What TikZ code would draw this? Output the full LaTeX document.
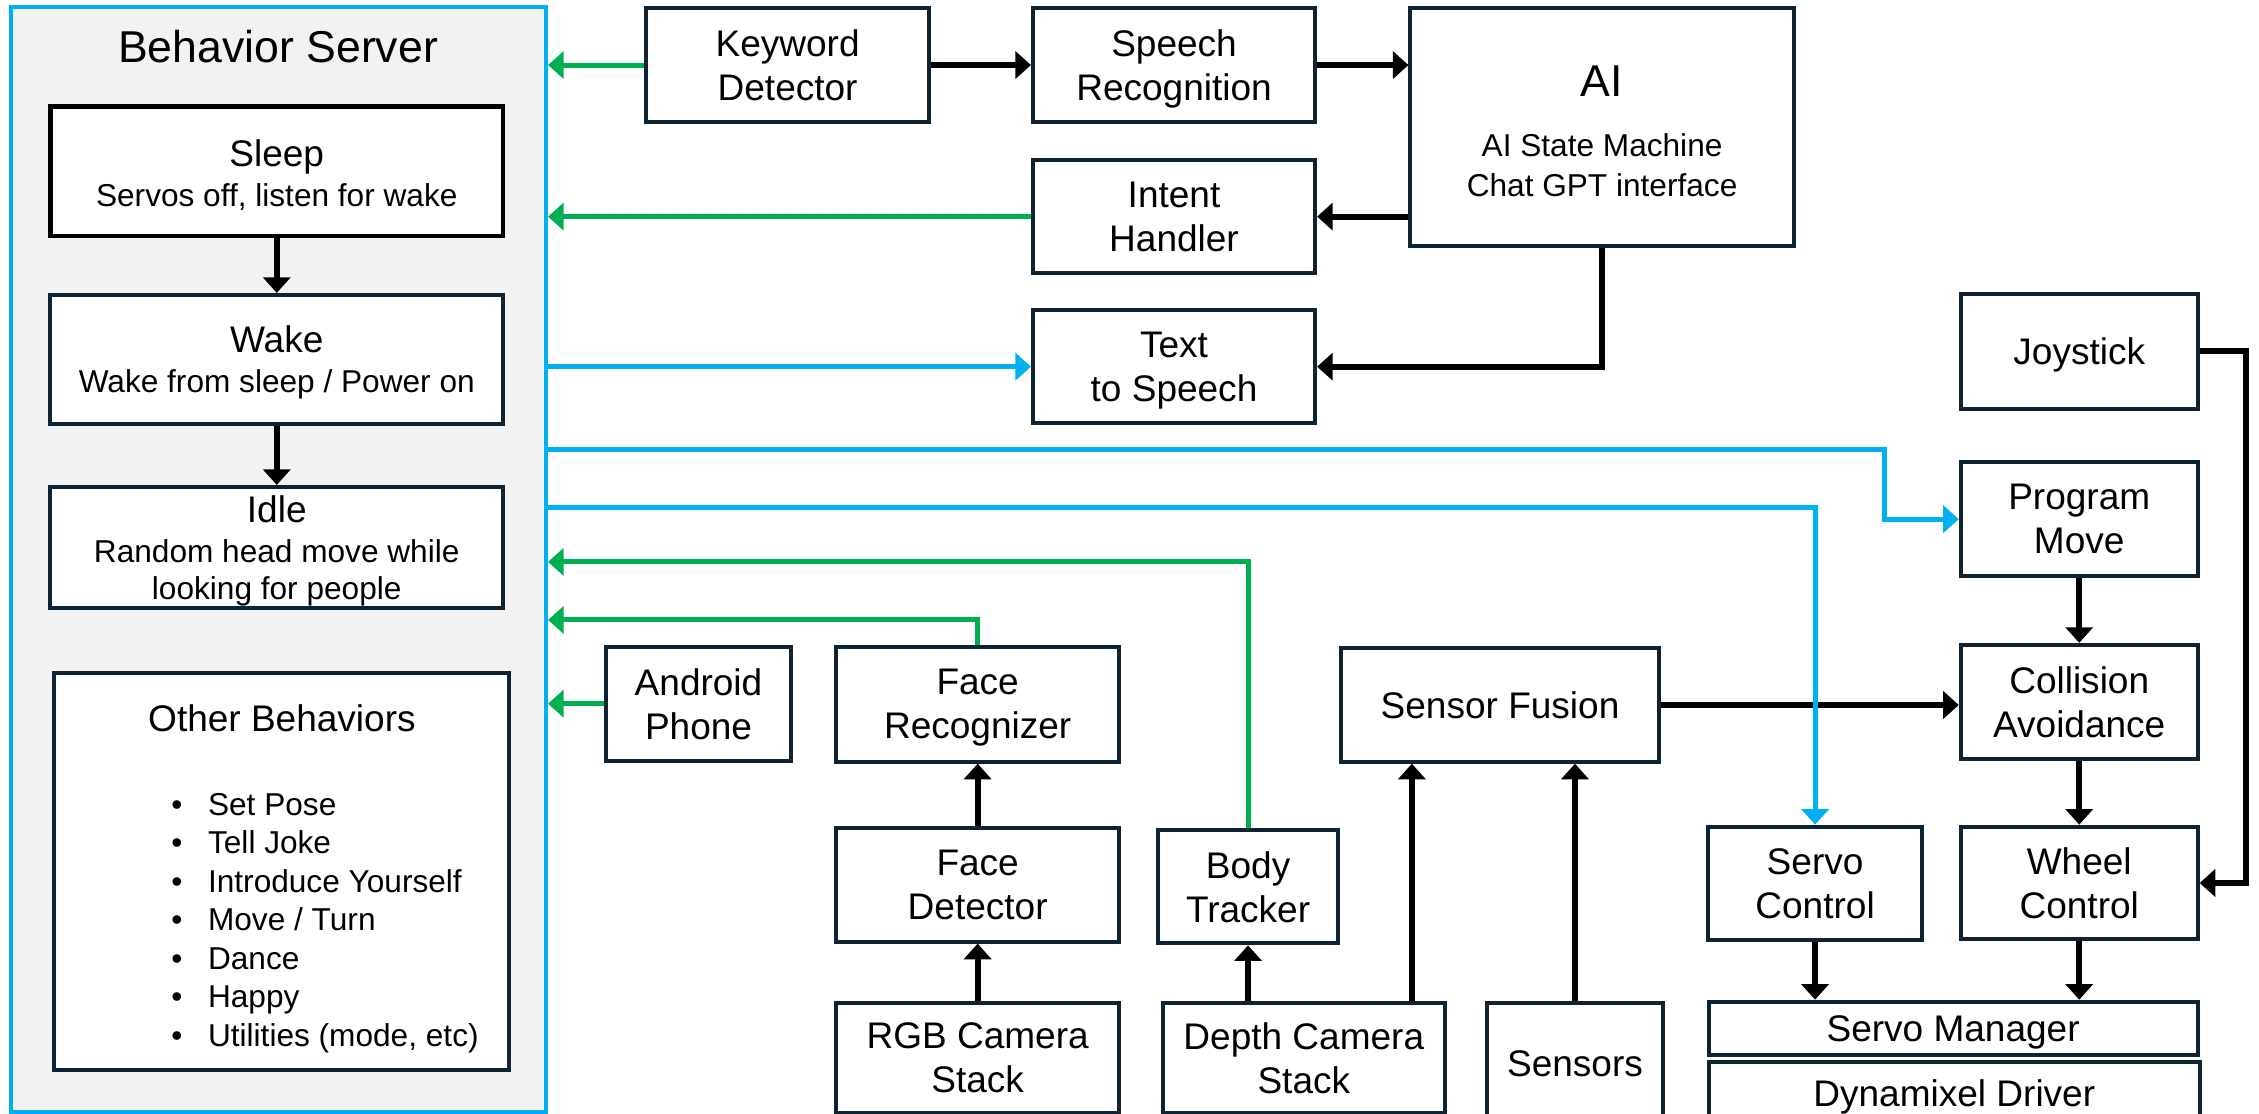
\documentclass[tikz,border=0pt]{standalone}
\usepackage{fontspec}
\setmainfont{Liberation Sans}
\usetikzlibrary{arrows.meta}

\definecolor{navy}{HTML}{0E2433}
\definecolor{linkblue}{HTML}{00B0F0}
\definecolor{linkgreen}{HTML}{00B050}
\definecolor{panel}{HTML}{F2F2F2}

\newcommand\normsz{\fontsize{18.5}{22}\selectfont}
\newcommand\smallsz{\fontsize{15.8}{22}\selectfont}
\newcommand\bigsz{\fontsize{22.3}{22}\selectfont}

% box from corner (x1,y1) to corner (x2,y2): name, x1, y1, x2, y2, style, text
\newcommand\placebox[7]{%
  \node[#6, minimum width={((#4)-(#2))*0.72pt}, minimum height={((#5)-(#3))*0.72pt}]
    (#1) at ({((#2)+(#4))/2},{((#3)+(#5))/2}) {#7};}

\tikzset{
  blk/.style={draw=navy, line width=2pt, fill=white, inner sep=0pt,
    align=center, font=\normsz, text depth=0pt},
  tip/.style={-{Triangle[width=13.5pt,length=7.8pt]}},
  flow/.style={tip, draw=black, line width=3pt},
  gflow/.style={tip, draw=linkgreen, line width=2.5pt},
  bflow/.style={tip, draw=linkblue, line width=2.5pt},
}

\begin{document}
\begin{tikzpicture}[x=0.72pt, y=-0.72pt]
\useasboundingbox (0,0) rectangle (1568,773);
\clip (0,0) rectangle (1568,773);
\fill[white] (0,0) rectangle (1568,773);

% Behavior server panel and its states
\placebox{bs}{7.4}{5}{379}{771.5}{draw=linkblue, line width=2pt, fill=panel, inner sep=0pt}{}
\node[font=\bigsz] (bstitle) at (193,32) {Behavior Server};
\placebox{sleep}{35}{74}{349.2}{163.8}{blk, draw=black, line width=2.2pt}{}
\node[font=\normsz, align=center] (sleeptext) at (192.1,121.5)
  {Sleep\\[-2pt]{\smallsz Servos off, listen for wake}};
\placebox{wake}{35}{204.7}{349.2}{294}{blk}{Wake\\[-2pt]{\smallsz Wake from sleep / Power on}}
\placebox{idle}{35}{338}{349.2}{422.3}{blk}{Idle\\[-2pt]{\smallsz Random head move while}\\[-3.4pt]{\smallsz looking for people}}
\placebox{other}{37.8}{467}{353}{743}{blk}{}
\node[font=\normsz] (othertitle) at (195.7,498.5) {Other Behaviors};
\foreach \item [count=\i from 0] in {Set Pose, Tell Joke, Introduce Yourself,
    Move / Turn, Dance, Happy, {Utilities (mode, etc)}}
  \node[font=\smallsz, anchor=base west, inner sep=0pt] (item\i)
    at (118.6, {558+26.75*\i+7.9}) {\makebox[18.4pt][l]{•}\item};

% speech pipeline
\placebox{kd}{448.4}{5.8}{645}{84.5}{blk}{Keyword\\Detector}
\placebox{sr}{717}{5.8}{912.8}{84.5}{blk}{Speech\\Recognition}
\placebox{ai}{979}{5.8}{1245}{170.5}{blk}{}
\node[font=\bigsz] (aititle) at (1112,56.5) {AI};
\node[font=\smallsz, align=center] (aisub) at (1112,114.8)
  {AI State Machine\\[-2pt]Chat GPT interface};
\placebox{ih}{717}{111}{912.8}{189.7}{blk}{Intent\\Handler}
\placebox{tts}{717}{215.2}{912.8}{293.8}{blk}{Text\\to Speech}

% motion
\placebox{js}{1361}{204.3}{1525.4}{283.6}{blk}{Joystick}
\placebox{pm}{1361}{320.7}{1525.4}{400}{blk}{Program\\Move}
\placebox{ca}{1361}{447.6}{1525.4}{527}{blk}{Collision\\Avoidance}
\placebox{wc}{1361}{573.8}{1525.4}{652}{blk}{Wheel\\Control}
\placebox{sc}{1185.7}{573.8}{1334}{652.5}{blk}{Servo\\Control}
\placebox{sm}{1186}{695.3}{1525.4}{732.3}{blk}{Servo Manager}
\placebox{dd}{1186}{737.4}{1527}{780.4}{blk}{Dynamixel Driver}

% perception
\placebox{sf}{930.9}{450}{1151.5}{528.7}{blk}{Sensor Fusion}
\placebox{sn}{1031.9}{696}{1154.5}{780}{blk}{Sensors}
\placebox{dc}{807}{696}{1003}{772.3}{blk}{Depth Camera\\Stack}
\placebox{bt}{803.9}{576}{928.7}{654.8}{blk}{Body\\Tracker}
\placebox{rgb}{580.3}{696}{776.9}{772.3}{blk}{RGB Camera\\Stack}
\placebox{fd}{580.3}{575}{776.9}{653.6}{blk}{Face\\Detector}
\placebox{fr}{580.3}{448.8}{776.9}{528.7}{blk}{Face\\Recognizer}
\placebox{ap}{420.7}{448.9}{549}{528}{blk}{Android\\Phone}

% routing helpers
\coordinate (pmrow) at (0,312.3);
\coordinate (pmcol) at (1308,0);
\coordinate (scrow) at (0,352.4);
\coordinate (btrow) at (0,390);
\coordinate (frrow) at (0,430.3);
\coordinate (dcol) at (980,0);
\coordinate (jcol) at (1559,0);

% black data flow
\draw[flow] (sleep) -- (wake);
\draw[flow] (wake) -- (idle);
\draw[flow] (kd) -- (sr);
\draw[flow] (sr.east) -- (sr.east -| ai.west);
\draw[flow] (ih.east -| ai.west) -- (ih.east);
\draw[flow] (ai.south) |- (tts.east);
\draw[flow] (rgb) -- (fd);
\draw[flow] (fd) -- (fr);
\draw[flow] (bt.south |- dc.north) -- (bt.south);
\draw[flow] (dc.north -| dcol) -- (sf.south -| dcol);
\draw[flow] (sn.north) -- (sn.north |- sf.south);
\draw[flow] (sf.east) -- (sf.east -| ca.west);
\draw[flow] (pm) -- (ca);
\draw[flow] (ca) -- (wc);
\draw[flow] (js.east) -| (jcol |- wc.east) -- (wc.east);
\draw[flow] (sc.south) -- (sc.south |- sm.north);
\draw[flow] (wc.south) -- (wc.south |- sm.north);

% events into the behavior server
\draw[gflow] (kd.west) -- (kd.west -| bs.east);
\draw[gflow] (ih.west) -- (ih.west -| bs.east);
\draw[gflow] (bt.north) |- (bs.east |- btrow);
\draw[gflow] (fr.north) |- (bs.east |- frrow);
\draw[gflow] (ap.west) -- (ap.west -| bs.east);

% commands out of the behavior server
\draw[bflow] (tts.west -| bs.east) -- (tts.west);
\draw[bflow] (bs.east |- pmrow) -- (pmcol |- pmrow) -- (pmcol |- pm.west) -- (pm.west);
\draw[bflow] (bs.east |- scrow) -| (sc.north);
\end{tikzpicture}
\end{document}
